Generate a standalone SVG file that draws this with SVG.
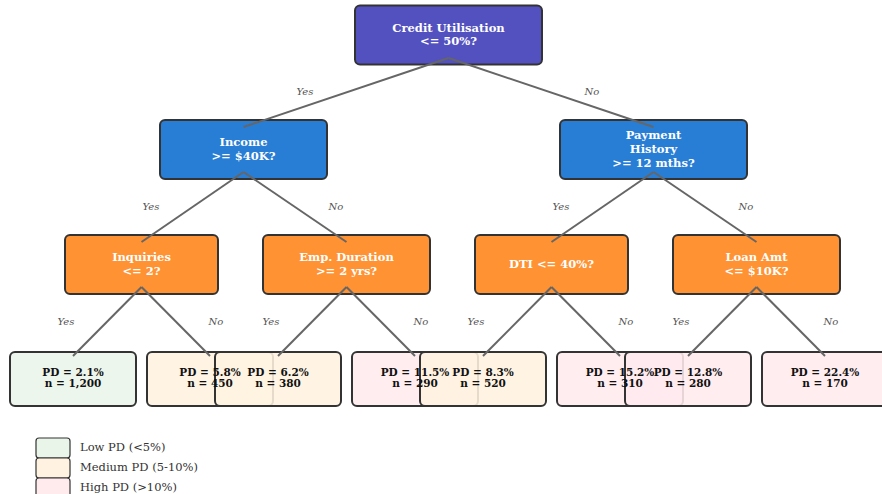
<svg xmlns="http://www.w3.org/2000/svg" width="882" height="494" viewBox="0 0 882 494">
<style>
.dec{stroke:#333;stroke-width:2;}
.root{fill:#5351BF;}
.blue{fill:#287DD5;}
.orange{fill:#FF9233;}
.leaf{stroke:#333;stroke-width:2;fill-opacity:0.88;}
.low{fill:#EAF5EA;}
.med{fill:#FFF2E0;}
.high{fill:#FFEBEE;}
.nt{font-family:"DejaVu Serif",serif;font-weight:bold;font-size:11.5px;fill:#fff;text-anchor:middle;}
.lt{font-family:"DejaVu Serif",serif;font-weight:bold;font-size:10.5px;fill:#111;text-anchor:middle;}
.el{font-family:"DejaVu Serif",serif;font-style:italic;font-size:10px;fill:#555;text-anchor:middle;}
.lg{font-family:"DejaVu Serif",serif;font-size:11.5px;fill:#333;}
.conn line{stroke:#666;stroke-width:2;}
.lgb{stroke:#333;stroke-width:1.2;}
</style>
<rect width="882" height="494" fill="#fff"/>

<g id="root">
<rect class="dec root" x="355" y="5.5" width="187" height="59" rx="5"/>
<text class="nt" x="448.5" y="31.5">Credit Utilisation</text>
<text class="nt" x="448.5" y="45">&lt;= 50%?</text>
</g>

<g id="income">
<rect class="dec blue" x="160" y="120" width="167" height="59" rx="5"/>
<text class="nt" x="243.5" y="146">Income</text>
<text class="nt" x="243.5" y="159.5">&gt;= $40K?</text>
</g>

<g id="payment">
<rect class="dec blue" x="560" y="120" width="187" height="59" rx="5"/>
<text class="nt" x="653.5" y="139">Payment</text>
<text class="nt" x="653.5" y="153">History</text>
<text class="nt" x="653.5" y="167">&gt;= 12 mths?</text>
</g>

<g id="inquiries">
<rect class="dec orange" x="65" y="235" width="153" height="59" rx="5"/>
<text class="nt" x="141.5" y="261">Inquiries</text>
<text class="nt" x="141.5" y="274.5">&lt;= 2?</text>
</g>

<g id="empduration">
<rect class="dec orange" x="263" y="235" width="167" height="59" rx="5"/>
<text class="nt" x="346.5" y="261">Emp. Duration</text>
<text class="nt" x="346.5" y="274.5">&gt;= 2 yrs?</text>
</g>

<g id="dti">
<rect class="dec orange" x="475" y="235" width="153" height="59" rx="5"/>
<text class="nt" x="551.5" y="268">DTI &lt;= 40%?</text>
</g>

<g id="loanamt">
<rect class="dec orange" x="673" y="235" width="167" height="59" rx="5"/>
<text class="nt" x="756.5" y="261">Loan Amt</text>
<text class="nt" x="756.5" y="274.5">&lt;= $10K?</text>
</g>

<g id="leaf1"><rect class="leaf low" x="10" y="352" width="126" height="54" rx="5"/></g>
<g id="leaf2"><rect class="leaf med" x="147" y="352" width="126" height="54" rx="5"/></g>
<g id="leaf3"><rect class="leaf med" x="215" y="352" width="126" height="54" rx="5"/></g>
<g id="leaf4"><rect class="leaf high" x="352" y="352" width="126" height="54" rx="5"/></g>
<g id="leaf5"><rect class="leaf med" x="420" y="352" width="126" height="54" rx="5"/></g>
<g id="leaf6"><rect class="leaf high" x="557" y="352" width="126" height="54" rx="5"/></g>
<g id="leaf7"><rect class="leaf high" x="625" y="352" width="126" height="54" rx="5"/></g>
<g id="leaf8"><rect class="leaf high" x="762" y="352" width="126" height="54" rx="5"/></g>

<g id="leaf-labels">
<g id="leaf1-label"><text class="lt" x="73" y="375.5">PD = 2.1%</text><text class="lt" x="73" y="387">n = 1,200</text></g>
<g id="leaf2-label"><text class="lt" x="210" y="375.5">PD = 5.8%</text><text class="lt" x="210" y="387">n = 450</text></g>
<g id="leaf3-label"><text class="lt" x="278" y="375.5">PD = 6.2%</text><text class="lt" x="278" y="387">n = 380</text></g>
<g id="leaf4-label"><text class="lt" x="415" y="375.5">PD = 11.5%</text><text class="lt" x="415" y="387">n = 290</text></g>
<g id="leaf5-label"><text class="lt" x="483" y="375.5">PD = 8.3%</text><text class="lt" x="483" y="387">n = 520</text></g>
<g id="leaf6-label"><text class="lt" x="620" y="375.5">PD = 15.2%</text><text class="lt" x="620" y="387">n = 310</text></g>
<g id="leaf7-label"><text class="lt" x="688" y="375.5">PD = 12.8%</text><text class="lt" x="688" y="387">n = 280</text></g>
<g id="leaf8-label"><text class="lt" x="825" y="375.5">PD = 22.4%</text><text class="lt" x="825" y="387">n = 170</text></g>
</g>

<g id="connectors" class="conn">
<line x1="448.5" y1="58" x2="243.5" y2="127"/>
<line x1="448.5" y1="58" x2="653.5" y2="127"/>
<line x1="243.5" y1="172" x2="141.5" y2="242"/>
<line x1="243.5" y1="172" x2="346.5" y2="242"/>
<line x1="653.5" y1="172" x2="551.5" y2="242"/>
<line x1="653.5" y1="172" x2="756.5" y2="242"/>
<line x1="141.5" y1="287" x2="73" y2="356"/>
<line x1="141.5" y1="287" x2="210" y2="356"/>
<line x1="346.5" y1="287" x2="278" y2="356"/>
<line x1="346.5" y1="287" x2="415" y2="356"/>
<line x1="551.5" y1="287" x2="483" y2="356"/>
<line x1="551.5" y1="287" x2="620" y2="356"/>
<line x1="756.5" y1="287" x2="688" y2="356"/>
<line x1="756.5" y1="287" x2="825" y2="356"/>
</g>

<g id="edge-labels">
<text class="el" x="305" y="95">Yes</text>
<text class="el" x="592" y="95">No</text>
<text class="el" x="151" y="210">Yes</text>
<text class="el" x="336" y="210">No</text>
<text class="el" x="561" y="210">Yes</text>
<text class="el" x="746" y="210">No</text>
<text class="el" x="66" y="325">Yes</text>
<text class="el" x="216" y="325">No</text>
<text class="el" x="271" y="325">Yes</text>
<text class="el" x="421" y="325">No</text>
<text class="el" x="476" y="325">Yes</text>
<text class="el" x="626" y="325">No</text>
<text class="el" x="681" y="325">Yes</text>
<text class="el" x="831" y="325">No</text>
</g>

<g id="legend">
<rect class="lgb low" x="36" y="438" width="34" height="20" rx="3"/>
<rect class="lgb med" x="36" y="458" width="34" height="20" rx="3"/>
<rect class="lgb high" x="36" y="478" width="34" height="20" rx="3"/>
<text class="lg" x="80" y="451">Low PD (&lt;5%)</text>
<text class="lg" x="80" y="471">Medium PD (5-10%)</text>
<text class="lg" x="80" y="491">High PD (&gt;10%)</text>
</g>
</svg>
